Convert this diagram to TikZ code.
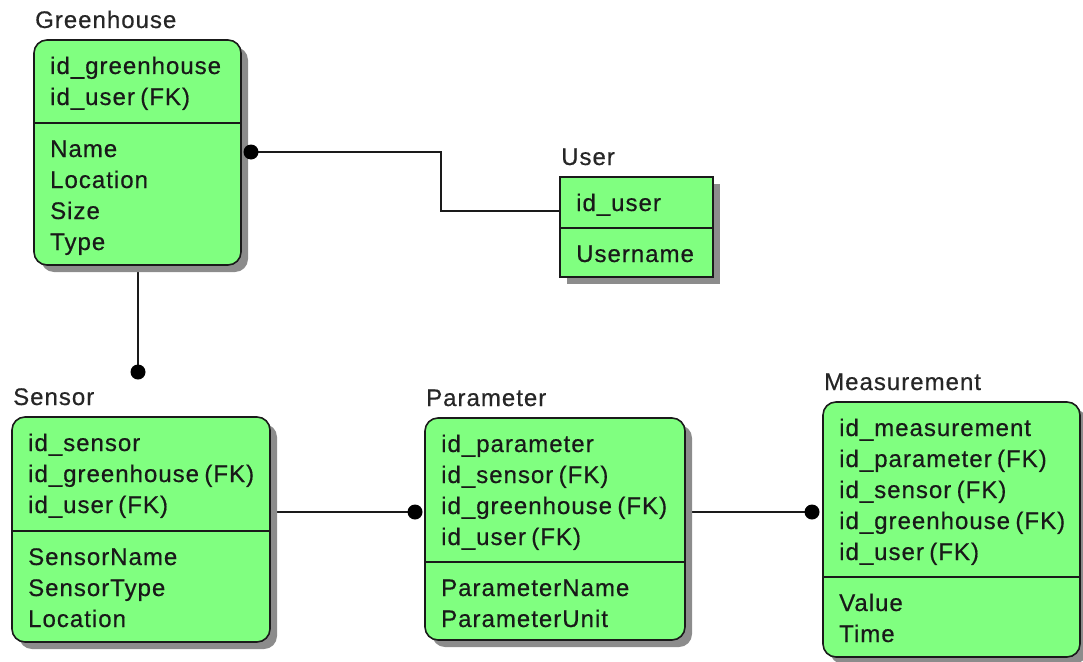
\documentclass[tikz,border=0pt]{standalone}
\usepackage{fontspec}
\setmainfont{Liberation Sans}[LetterSpace=4.2, WordSpace=0.7, FakeBold=0.5]
\usetikzlibrary{shadows}

\definecolor{entgreen}{HTML}{80FF80}
\definecolor{inkline}{HTML}{1A1A1A}

\tikzset{
  entbox/.style={draw=inkline, line width=1.6pt, fill=entgreen, inner sep=0pt, outer sep=0pt,
    drop shadow={shadow xshift=7pt, shadow yshift=-7pt, fill=black!45, opacity=1}},
  roundbox/.style={rounded corners=13pt},
  squarebox/.style={},
  divider/.style={draw=inkline, line width=1.6pt},
  entrow/.style={anchor=base west, inner sep=0pt, font=\fontsize{24}{31}\selectfont, text=black!90},
  enttitle/.style={anchor=base west, inner sep=0pt, font=\fontsize{24}{31}\selectfont, text=black!85},
  conn/.style={draw=inkline, line width=1.7pt},
  cdot/.style={fill=black, draw=none},
}

% #1 name, #2 top-left corner, #3 width, #4 height, #5 depth of the key section,
% #6 table name, #7 key rows, #8 attribute rows, #9 corner style
\newcommand\erentity[9]{%
  \node[entbox, #9, minimum width=#3, minimum height=#4, anchor=north west] (#1) at (#2) {};
  \node[enttitle] (#1-title) at ([xshift=1pt, yshift=12pt]#1.north west) {#6};
  \draw[divider] ([yshift=-#5]#1.north west) -- ([yshift=-#5]#1.north east);
  \foreach \t [count=\i] in {#7}
    \node[entrow] (#1-k\i) at ([xshift=16pt, yshift={-34pt-31pt*(\i-1)}]#1.north west) {\t};
  \foreach \t [count=\i] in {#8}
    \node[entrow] (#1-a\i) at ([xshift=16pt, yshift={-#5-34pt-31pt*(\i-1)}]#1.north west) {\t};
}

\begin{document}
\begin{tikzpicture}[x=1pt, y=-1pt]
\useasboundingbox (0,0) rectangle (1083,661);

% connector end points
\coordinate (ghdot) at (251,152);
\coordinate (snsdot) at (138,372);
\coordinate (pardot) at (415,512);
\coordinate (msdot) at (812,512);
\coordinate (userend) at (560,211);

% connectors (drawn first so the shadows cover their roots)
\draw[conn] (ghdot) -- ++(190,0) |- (userend);
\draw[conn] (138,265) coordinate (ghfoot) -- (snsdot);
\draw[conn] (270,512) coordinate (snsside) -- (pardot);
\draw[conn] (685,512) coordinate (parside) -- (msdot);

\erentity{gh}{34,40}{207pt}{225pt}{83pt}{Greenhouse}
  {id\_greenhouse, id\_user (FK)}
  {Name, Location, Size, Type}{roundbox}

\erentity{user}{560,177}{153pt}{100pt}{51pt}{User}
  {id\_user}
  {Username}{squarebox}

\erentity{sns}{12,417}{258pt}{225pt}{114pt}{Sensor}
  {id\_sensor, id\_greenhouse (FK), id\_user (FK)}
  {SensorName, SensorType, Location}{roundbox}

\erentity{par}{425,418}{260pt}{222pt}{144pt}{Parameter}
  {id\_parameter, id\_sensor (FK), id\_greenhouse (FK), id\_user (FK)}
  {ParameterName, ParameterUnit}{roundbox}

\erentity{ms}{823,402}{257pt}{255pt}{175pt}{Measurement}
  {id\_measurement, id\_parameter (FK), id\_sensor (FK), id\_greenhouse (FK), id\_user (FK)}
  {Value, Time}{roundbox}

% relationship dots on the child side
\foreach \d in {ghdot, snsdot, pardot, msdot}
  \fill[cdot] (\d) circle (7.5pt);
\end{tikzpicture}
\end{document}
